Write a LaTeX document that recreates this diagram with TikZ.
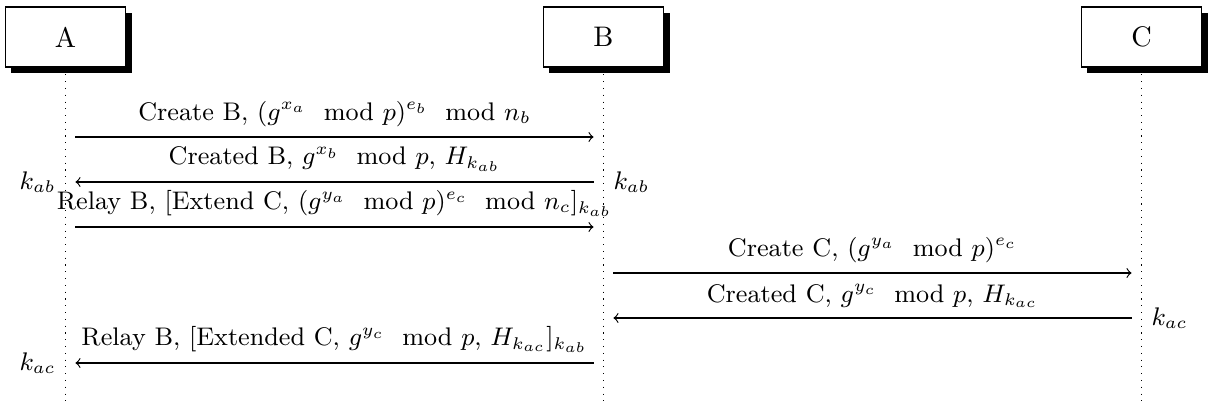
\documentclass[tikz,border=0pt]{standalone}
\usepackage{amsmath}
\usetikzlibrary{shadows,backgrounds}
\begin{document}
\begin{tikzpicture}[x=0.012424cm,y=-0.012424cm,
  actor/.style={draw, fill=white, minimum width=1.5cm, minimum height=0.745cm, inner sep=0pt,
    drop shadow={fill=black, opacity=1, shadow xshift=2.1pt, shadow yshift=-2.1pt}},
  life/.style={dotted},
  msg/.style={->, shorten >=3.5pt, shorten <=3.5pt},
  lbl/.style={above, midway, font=\small},
  key/.style={font=\small}]
\useasboundingbox (0,0) rectangle (1209,407);
\node[actor] (A) at (65.5,37) {A};
\node[actor] (B) at (603.5,37) {B};
\node[actor] (C) at (1141.5,37) {C};
\coordinate (bot) at (0,407);
\coordinate (r1) at (0,137);
\coordinate (r2) at (0,182);
\coordinate (r3) at (0,227);
\coordinate (r4) at (0,273);
\coordinate (r5) at (0,318);
\coordinate (r6) at (0,363);
\begin{scope}[on background layer]
\draw[life] (A.south) -- (A.south |- bot);
\draw[life] (B.south) -- (B.south |- bot);
\draw[life] (C.south) -- (C.south |- bot);
\end{scope}
\draw[msg] (A |- r1) -- node[lbl] {Create B, $(g^{x_a} \mod p)^{e_b} \mod n_b$} (B |- r1);
\draw[msg] (B |- r2) -- node[lbl] {Created B, $g^{x_b} \mod p$, $H_{k_{ab}}$} (A |- r2);
\draw[msg] (A |- r3) -- node[lbl] {Relay B, [Extend C, $(g^{y_a} \mod p)^{e_c} \mod n_c]_{k_{ab}}$} (B |- r3);
\draw[msg] (B |- r4) -- node[lbl] {Create C, $(g^{y_a} \mod p)^{e_c}$} (C |- r4);
\draw[msg] (C |- r5) -- node[lbl] {Created C, $g^{y_c} \mod p$, $H_{k_{ac}}$} (B |- r5);
\draw[msg] (B |- r6) -- node[lbl] {Relay B, [Extended C, $g^{y_c} \mod p$, $H_{k_{ac}}]_{k_{ab}}$} (A |- r6);
\node[key, left] (kab1) at (A |- r2) {$k_{ab}$};
\node[key, right] (kab2) at (B |- r2) {$k_{ab}$};
\node[key, right] (kac1) at (C |- r5) {$k_{ac}$};
\node[key, left] (kac2) at (A |- r6) {$k_{ac}$};
\end{tikzpicture}
\end{document}
